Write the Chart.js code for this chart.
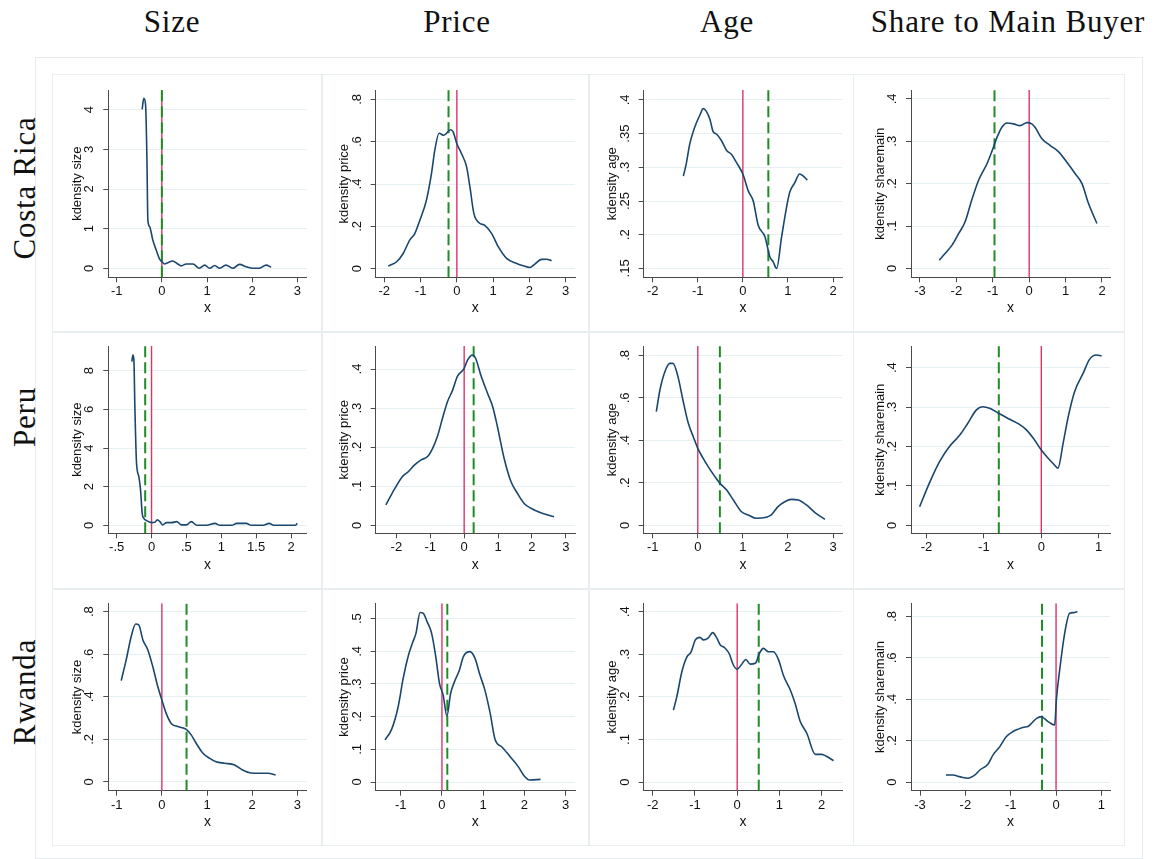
<!DOCTYPE html>
<html>
<head>
<meta charset="utf-8">
<script src="https://cdn.jsdelivr.net/npm/chart.js@4"></script>
<style>
body{margin:0;background:#fff;width:1159px;height:859px;position:relative;overflow:hidden;font-family:"Liberation Serif",serif}
.ct{position:absolute;font-size:31px;letter-spacing:0.8px;color:#111;white-space:nowrap;transform:translate(-50%,-50%)}
.rl{position:absolute;font-size:31px;letter-spacing:0.8px;color:#111;white-space:nowrap;transform:translate(-50%,-50%) rotate(-90deg)}
.outer{position:absolute;left:35px;top:57px;width:1106px;height:800px;border:1px solid #e6ecee}
.pb{position:absolute;border:1px solid #e8eef0;box-sizing:border-box}
.pc{position:absolute}
</style>
</head>
<body>
<div class="outer"></div>
<div class="ct" style="left:172px;top:22px">Size</div>
<div class="ct" style="left:457px;top:22px">Price</div>
<div class="ct" style="left:727px;top:22px">Age</div>
<div class="ct" style="left:1008px;top:22px">Share to Main Buyer</div>
<div class="rl" style="left:25px;top:188px">Costa Rica</div>
<div class="rl" style="left:25px;top:417px">Peru</div>
<div class="rl" style="left:25px;top:692px">Rwanda</div>
<script>
// kdensity curves
var crSizeX = [-0.436,-0.40,-0.36,-0.33,-0.31,-0.27,-0.2,-0.125,-0.05,0,0.06,0.13,0.24,0.35,0.43,0.54,0.69,0.83,0.95,1.06,1.17,1.28,1.42,1.57,1.72,1.87,2.02,2.16,2.31,2.42];
var crSizeY = [4.01,4.29,4.12,2.73,1.22,1.05,0.71,0.46,0.23,0.17,0.11,0.14,0.185,0.11,0.06,0.11,0.11,0,0.08,0,0.07,0,0.08,0,0.1,0.04,0,0,0.08,0.025];

var crPriceX = [-1.89,-1.66,-1.48,-1.30,-1.16,-1.02,-0.84,-0.70,-0.61,-0.49,-0.36,-0.17,-0.10,0,0.13,0.27,0.36,0.47,0.62,0.77,0.96,1.14,1.37,1.65,1.83,2.01,2.15,2.33,2.47,2.61];
var crPriceY = [0.0125,0.033,0.072,0.135,0.166,0.229,0.323,0.449,0.558,0.64,0.63,0.656,0.645,0.59,0.543,0.48,0.386,0.26,0.216,0.205,0.166,0.104,0.049,0.025,0.014,0.006,0.022,0.044,0.045,0.038];

var crAgeX = [-1.32,-1.26,-1.18,-1.10,-1.03,-0.95,-0.88,-0.81,-0.73,-0.66,-0.58,-0.47,-0.36,-0.25,-0.14,0,0.12,0.23,0.34,0.49,0.60,0.67,0.75,0.86,0.97,1.04,1.15,1.26,1.34,1.43];
var crAgeY = [0.287,0.304,0.334,0.353,0.366,0.378,0.387,0.383,0.371,0.353,0.349,0.339,0.325,0.319,0.307,0.29,0.265,0.25,0.214,0.197,0.167,0.16,0.15,0.197,0.241,0.263,0.277,0.29,0.287,0.281];

var crShareX = [-2.47,-2.31,-2.12,-1.94,-1.76,-1.58,-1.39,-1.16,-1.03,-0.89,-0.75,-0.61,-0.43,-0.25,-0.06,0.07,0.16,0.35,0.58,0.81,1.03,1.26,1.45,1.63,1.86];
var crShareY = [0.0196,0.035,0.055,0.082,0.11,0.161,0.208,0.247,0.275,0.308,0.333,0.343,0.341,0.337,0.344,0.341,0.333,0.306,0.29,0.275,0.251,0.224,0.2,0.153,0.106];

var peSizeX = [-0.282,-0.268,-0.253,-0.239,-0.215,-0.182,-0.158,-0.134,-0.11,-0.072,0,0.048,0.081,0.12,0.158,0.215,0.287,0.36,0.43,0.50,0.57,0.65,0.79,0.91,0.98,1.15,1.22,1.36,1.43,1.60,1.69,1.75,2.06,2.09];
var peSizeY = [8.47,8.81,8.55,6.14,3.21,2.52,1.83,0.62,0.36,0.24,0.14,0.155,0.28,0.19,0.02,0.14,0.14,0.19,0.02,0.02,0.19,0,0,0.1,0,0,0.1,0.1,0,0,0.1,0,0,0.1];

var pePriceX = [-2.31,-2.06,-1.82,-1.65,-1.47,-1.28,-1.08,-0.93,-0.79,-0.64,-0.49,-0.34,-0.20,0,0.10,0.25,0.34,0.49,0.69,0.84,0.98,1.18,1.38,1.57,1.77,1.97,2.26,2.65];
var pePriceY = [0.052,0.092,0.125,0.137,0.154,0.167,0.176,0.197,0.227,0.274,0.317,0.346,0.381,0.402,0.423,0.436,0.427,0.385,0.338,0.304,0.253,0.171,0.112,0.082,0.056,0.0435,0.032,0.022];

var peAgeX = [-0.92,-0.84,-0.73,-0.62,-0.55,-0.44,-0.33,-0.21,-0.10,0,0.12,0.23,0.38,0.49,0.64,0.79,0.97,1.12,1.30,1.52,1.63,1.78,1.93,2.08,2.23,2.41,2.60,2.82];
var peAgeY = [0.535,0.637,0.723,0.762,0.762,0.70,0.59,0.48,0.417,0.362,0.315,0.276,0.229,0.198,0.166,0.119,0.064,0.049,0.033,0.038,0.049,0.088,0.111,0.122,0.119,0.096,0.06,0.028];

var peShareX = [-2.12,-1.95,-1.77,-1.60,-1.42,-1.28,-1.13,-1.02,-0.90,-0.73,-0.55,-0.38,-0.26,-0.12,0,0.12,0.23,0.29,0.38,0.47,0.58,0.73,0.84,0.96,1.05];
var peShareY = [0.047,0.107,0.162,0.20,0.229,0.259,0.293,0.301,0.297,0.283,0.269,0.256,0.242,0.217,0.191,0.17,0.153,0.145,0.208,0.276,0.339,0.386,0.421,0.432,0.43];

var rwSizeX = [-0.90,-0.79,-0.68,-0.58,-0.51,-0.42,-0.31,-0.20,-0.09,0,0.096,0.207,0.354,0.54,0.65,0.76,0.91,1.06,1.20,1.39,1.61,1.79,1.98,2.16,2.35,2.52];
var rwSizeY = [0.476,0.573,0.682,0.742,0.737,0.667,0.62,0.541,0.448,0.385,0.322,0.275,0.26,0.247,0.221,0.182,0.135,0.111,0.095,0.088,0.08,0.056,0.042,0.041,0.041,0.033];

var rwPriceX = [-1.38,-1.22,-1.06,-0.94,-0.81,-0.71,-0.63,-0.53,-0.45,-0.36,-0.25,-0.15,-0.06,0.03,0.12,0.21,0.32,0.42,0.52,0.68,0.80,0.92,1.04,1.17,1.29,1.45,1.65,1.85,2.01,2.13,2.39];
var rwPriceY = [0.129,0.161,0.231,0.317,0.389,0.427,0.455,0.519,0.516,0.491,0.455,0.384,0.302,0.266,0.202,0.271,0.312,0.341,0.384,0.399,0.379,0.328,0.282,0.21,0.129,0.108,0.078,0.047,0.016,0.006,0.008];

var rwAgeX = [-1.51,-1.43,-1.31,-1.19,-1.09,-0.99,-0.88,-0.80,-0.69,-0.58,-0.48,-0.40,-0.30,-0.19,-0.09,0,0.095,0.205,0.31,0.43,0.52,0.62,0.74,0.86,0.98,1.10,1.25,1.37,1.49,1.65,1.85,2.00,2.12,2.28];
var rwAgeY = [0.169,0.20,0.259,0.294,0.306,0.334,0.34,0.334,0.338,0.351,0.338,0.322,0.316,0.302,0.275,0.265,0.275,0.288,0.277,0.279,0.301,0.314,0.306,0.306,0.287,0.249,0.218,0.185,0.143,0.114,0.065,0.065,0.06,0.05];

var rwShareX = [-2.43,-2.27,-2.13,-1.94,-1.79,-1.68,-1.50,-1.39,-1.24,-1.10,-0.95,-0.84,-0.71,-0.62,-0.54,-0.43,-0.32,-0.25,-0.14,-0.03,0.007,0.08,0.19,0.30,0.39,0.47];
var rwShareY = [0.034,0.034,0.026,0.018,0.034,0.058,0.087,0.131,0.171,0.219,0.244,0.255,0.265,0.268,0.284,0.308,0.316,0.305,0.287,0.276,0.397,0.542,0.719,0.816,0.819,0.824];

// reference lines: zero (red) and the dashed green marker per panel
var zeroLine = 0;
var greenLines = [[0, -0.23, 0.565, -0.953], [-0.091, 0.28, 0.49, -0.74], [0.547, 0.13, 0.51, -0.31]];

// tick labels
var xTicks = [
  [[-1,0,1,2,3], [-2,-1,0,1,2,3], [-2,-1,0,1,2], [-3,-2,-1,0,1,2]],
  [[-0.5,0,0.5,1,1.5,2], [-2,-1,0,1,2,3], [-1,0,1,2,3], [-2,-1,0,1]],
  [[-1,0,1,2,3], [-1,0,1,2,3], [-2,-1,0,1,2], [-3,-2,-1,0,1]]
];
var yTicks = [
  [[0,1,2,3,4], [0,0.2,0.4,0.6,0.8], [0.15,0.2,0.25,0.3,0.35,0.4], [0,0.1,0.2,0.3,0.4]],
  [[0,2,4,6,8], [0,0.1,0.2,0.3,0.4], [0,0.2,0.4,0.6,0.8], [0,0.1,0.2,0.3,0.4]],
  [[0,0.2,0.4,0.6,0.8], [0,0.1,0.2,0.3,0.4,0.5], [0,0.1,0.2,0.3,0.4], [0,0.2,0.4,0.6,0.8]]
];
var yTitles = ['kdensity size', 'kdensity price', 'kdensity age', 'kdensity sharemain'];

// axis extents
var xRanges = [
  [[-1.186,3.208], [-2.237,3.256], [-2.2,2.206], [-3.247,2.22]],
  [[-0.62,2.225], [-2.61,3.27], [-1.2,3.206], [-2.27,1.197]],
  [[-1.186,3.208], [-1.606,3.226], [-2.213,2.488], [-3.2,1.19]]
];
var yRanges = [
  [[-0.227,4.497], [-0.0405,0.844], [0.1368,0.4147], [-0.021,0.421]],
  [[-0.414,9.28], [-0.0205,0.459], [-0.0376,0.844], [-0.0203,0.455]],
  [[-0.041,0.839], [-0.0266,0.547], [-0.0204,0.42], [-0.042,0.864]]
];

var curves = [
  [[crSizeX,crSizeY], [crPriceX,crPriceY], [crAgeX,crAgeY], [crShareX,crShareY]],
  [[peSizeX,peSizeY], [pePriceX,pePriceY], [peAgeX,peAgeY], [peShareX,peShareY]],
  [[rwSizeX,rwSizeY], [rwPriceX,rwPriceY], [rwAgeX,rwAgeY], [rwShareX,rwShareY]]
];

// layout (pixels)
var colLeft = [52, 322, 589, 853], colRight = [321, 588, 853, 1124];
var rowTop = [74, 332, 589], rowBottom = [331, 588, 845];
var plotLeft = [108.3, 375.7, 643.7, 911], plotRight = [306.7, 575, 842.3, 1110];
var plotTop = [90, 346, 603.3], plotBottom = [277.3, 533.3, 790.7];

var navy = '#1a476f', redC = '#dc3564', greenC = '#1f8c25', axisC = '#4a4a4a', gridC = '#e6eff1';
var sans = '"Liberation Sans", Arial, sans-serif';

function fmt(v) {
  var s = String(+Number(v).toFixed(2));
  return s.replace(/^(-?)0\./, '$1.');
}

// rotated y tick labels, Stata style
var yLabels = {
  id: 'yLabels',
  afterDraw: function(chart) {
    var ctx = chart.ctx, s = chart.scales.y;
    ctx.save();
    ctx.font = '13px ' + sans;
    ctx.fillStyle = '#111';
    ctx.textAlign = 'center';
    ctx.textBaseline = 'middle';
    s.ticks.forEach(function(t) {
      var y = s.getPixelForValue(t.value);
      ctx.save();
      ctx.translate(s.right - 18.5, y);
      ctx.rotate(-Math.PI / 2);
      ctx.fillText(fmt(t.value), 0, 0);
      ctx.restore();
    });
    ctx.restore();
  }
};

function makePanel(r, c) {
  var w = colRight[c] - colLeft[c], h = rowBottom[r] - rowTop[r];
  var pb = document.createElement('div');
  pb.className = 'pb';
  pb.style.cssText = 'left:' + colLeft[c] + 'px;top:' + rowTop[r] + 'px;width:' + (w + 1) + 'px;height:' + (h + 1) + 'px';
  document.body.appendChild(pb);
  var div = document.createElement('div');
  div.className = 'pc';
  div.style.cssText = 'left:' + colLeft[c] + 'px;top:' + rowTop[r] + 'px;width:' + w + 'px;height:' + h + 'px';
  var cv = document.createElement('canvas');
  cv.width = w; cv.height = h;
  div.appendChild(cv);
  document.body.appendChild(div);

  var padL = plotLeft[c] - colLeft[c];
  var padT = plotTop[r] - rowTop[r];
  var padR = colRight[c] - plotRight[c];
  var padB = rowBottom[r] - plotBottom[r];
  var xs = curves[r][c][0], ys = curves[r][c][1];
  var yr = yRanges[r][c], xr = xRanges[r][c];
  var g = greenLines[r][c];
  var xt = xTicks[r][c], yt = yTicks[r][c];

  new Chart(cv, {
    type: 'line',
    data: {
      datasets: [
        {
          data: xs.map(function(x, i) { return {x: x, y: ys[i]}; }),
          borderColor: navy, borderWidth: 1.6, pointRadius: 0,
          cubicInterpolationMode: 'monotone', fill: false
        },
        {
          data: [{x: g, y: yr[0]}, {x: g, y: yr[1]}],
          borderColor: greenC, borderWidth: 2, borderDash: [11, 5], pointRadius: 0
        },
        {
          data: [{x: zeroLine, y: yr[0]}, {x: zeroLine, y: yr[1]}],
          borderColor: redC, borderWidth: 1.4, pointRadius: 0
        }
      ]
    },
    options: {
      responsive: false,
      maintainAspectRatio: false,
      animation: false,
      layout: {padding: {left: 0, top: padT, right: padR, bottom: 0}},
      plugins: {legend: {display: false}, tooltip: {enabled: false}},
      scales: {
        x: {
          type: 'linear', min: xr[0], max: xr[1],
          afterBuildTicks: function(s) { s.ticks = xt.map(function(v) { return {value: v}; }); },
          afterFit: function(s) { s.height = padB; },
          grid: {drawOnChartArea: false, drawTicks: true, tickLength: 5, tickColor: axisC},
          border: {color: axisC, width: 1},
          ticks: {font: {size: 13, family: sans}, color: '#111', padding: 1.5, maxRotation: 0, autoSkip: false, callback: fmt},
          title: {display: true, text: 'x', color: '#111', font: {size: 14, family: sans}, padding: {top: 0, bottom: 14}}
        },
        y: {
          type: 'linear', min: yr[0], max: yr[1],
          afterBuildTicks: function(s) { s.ticks = yt.map(function(v) { return {value: v}; }); },
          afterFit: function(s) { s.width = padL; },
          grid: {color: gridC, tickColor: axisC, tickLength: 5, drawTicks: true},
          border: {color: axisC, width: 1},
          ticks: {display: false},
          title: {display: true, text: yTitles[c], color: '#111', font: {size: 13, family: sans}, padding: {top: padL - 31 - 7.8, bottom: 0}}
        }
      }
    },
    plugins: [yLabels]
  });
}

for (var r = 0; r < 3; r++) {
  for (var c = 0; c < 4; c++) {
    makePanel(r, c);
  }
}
</script>
</body>
</html>
